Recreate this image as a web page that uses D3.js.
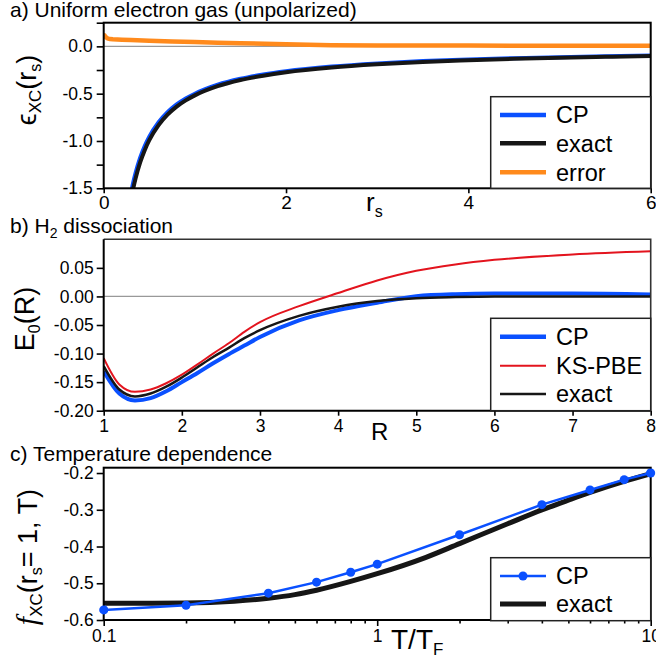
<!DOCTYPE html>
<html><head><meta charset="utf-8">
<script src="https://cdn.jsdelivr.net/npm/d3@7"></script>
<style>
html,body{margin:0;padding:0;background:#fff;}
svg{display:block;font-family:'Liberation Sans',Arial,Helvetica,sans-serif;}
</style></head><body>
<svg id="fig" width="656" height="657"></svg>
<script>
// ---------- (a) uniform electron gas, exchange-correlation energy per particle ----------
const rsGrid   = [0.3, 0.32, 0.35, 0.4, 0.45, 0.5, 0.6, 0.7, 0.8, 0.9, 1.0, 1.25, 1.5, 1.75, 2.0, 2.5, 3.0, 3.5, 4.0, 4.5, 5.0, 5.5, 6.0];
const excExact = [-1.617, -1.520, -1.395, -1.227, -1.097, -0.992, -0.835, -0.722, -0.637, -0.571, -0.518, -0.421, -0.356, -0.310, -0.274, -0.224, -0.190, -0.165, -0.147, -0.132, -0.120, -0.110, -0.102];
const excCP    = [-1.547, -1.455, -1.337, -1.177, -1.053, -0.954, -0.804, -0.696, -0.614, -0.551, -0.500, -0.405, -0.342, -0.297, -0.262, -0.213, -0.180, -0.156, -0.139, -0.125, -0.114, -0.104, -0.097];
const rsErr    = [0, 0.01, 0.02, 0.04, 0.07, 0.1, 0.2, 0.3, 0.5, 0.75, 1.0, 1.25, 1.5, 2.0, 2.5, 3.0, 4.0, 5.0, 6.0];
const excErr   = [0.105, 0.115, 0.100, 0.085, 0.077, 0.074, 0.070, 0.066, 0.060, 0.052, 0.045, 0.039, 0.033, 0.022, 0.013, 0.010, 0.008, 0.007, 0.006];
const uegXTicks = [0, 2, 4, 6];
const uegYTicks = [0, -0.5, -1.0, -1.5];
const uegYMinor = [0.25, -0.25, -0.75, -1.25];

// ---------- (b) H2 binding curve ----------
const bondR   = [1.0, 1.2, 1.4, 1.6, 1.8, 2.0, 2.2, 2.4, 2.6, 2.8, 3.0, 3.5, 4.0, 4.5, 5.0, 5.5, 6.0, 7.0, 8.0];
const h2CP    = [-0.131, -0.170, -0.182, -0.178, -0.166, -0.150, -0.134, -0.117, -0.101, -0.086, -0.071, -0.042, -0.024, -0.011, 0.0005, 0.004, 0.005, 0.005, 0.0035];
const h2PBE   = [-0.108, -0.154, -0.167, -0.163, -0.152, -0.137, -0.119, -0.100, -0.082, -0.062, -0.045, -0.017, 0.006, 0.028, 0.045, 0.056, 0.064, 0.0735, 0.079];
const h2Exact = [-0.122, -0.163, -0.175, -0.170, -0.158, -0.142, -0.124, -0.106, -0.090, -0.073, -0.059, -0.034, -0.018, -0.008, -0.003, -0.001, 0.0, 0.0, 0.0];
const h2XTicks = [1, 2, 3, 4, 5, 6, 7, 8];
const h2YTicks = [0.05, 0.0, -0.05, -0.10, -0.15, -0.20];

// ---------- (c) finite-temperature XC free energy at rs = 1 ----------
const tCP    = [0.1, 0.2, 0.4, 0.6, 0.8, 1, 2, 4, 6, 8, 10];
const fCP    = [-0.5726, -0.560, -0.527, -0.497, -0.470, -0.448, -0.368, -0.286, -0.246, -0.218, -0.200];
const tExact = [0.1, 0.15, 0.2, 0.3, 0.4, 0.5, 0.6, 0.8, 1, 1.5, 2, 3, 4, 5, 6, 8, 10];
const fExact = [-0.5545, -0.5545, -0.554, -0.549, -0.541, -0.531, -0.519, -0.495, -0.474, -0.430, -0.392, -0.338, -0.3005, -0.274, -0.253, -0.223, -0.202];
const tMajor = [0.1, 1, 10];
const tMinor = [0.2, 0.3, 0.4, 0.5, 0.6, 0.7, 0.8, 0.9, 2, 3, 4, 5, 6, 7, 8, 9];
const tYTicks = [-0.2, -0.3, -0.4, -0.5, -0.6];

const BLUE = '#0a50ff', BLACK = '#161616', ORANGE = '#ff8a1c', RED = '#e3141e';
const svg = d3.select('#fig');
const L = 103.7, R = 650.7;

function styleAxis(g, fs) {
  g.select('.domain').remove();
  g.attr('font-family', null).attr('font-size', null);
  g.selectAll('.tick line').attr('stroke', '#000').attr('stroke-width', 1.6);
  g.selectAll('.tick text').attr('fill', '#000').style('font-size', fs + 'px');
}

function clip(id, x, y) {
  svg.append('clipPath').attr('id', id).append('rect')
    .attr('x', x.range()[0]).attr('y', y.range()[1])
    .attr('width', x.range()[1] - x.range()[0]).attr('height', y.range()[0] - y.range()[1]);
}

function drawLine(g, xs, ys, x, y, color, w, curve) {
  const pts = xs.map((v, i) => [v, ys[i]]);
  g.append('path').datum(pts)
    .attr('fill', 'none').attr('stroke', color).attr('stroke-width', w)
    .attr('stroke-linejoin', 'round').attr('stroke-linecap', 'butt')
    .attr('d', d3.line().x(d => x(d[0])).y(d => y(d[1])).curve(curve || d3.curveMonotoneX));
}

function legend(x0, y0, x1, y1, items) {
  const g = svg.append('g');
  g.append('rect').attr('x', x0).attr('y', y0).attr('width', x1 - x0).attr('height', y1 - y0)
    .attr('fill', '#fff').attr('stroke', '#222').attr('stroke-width', 1.5);
  items.forEach(it => {
    g.append('line').attr('x1', 500).attr('x2', 546).attr('y1', it.y).attr('y2', it.y)
      .attr('stroke', it.color).attr('stroke-width', it.w);
    if (it.dot) g.append('circle').attr('cx', 523).attr('cy', it.y).attr('r', 4.5).attr('fill', it.color);
    g.append('text').attr('x', 556).attr('y', it.y + 8.4).attr('font-size', 23.5).attr('fill', '#000').text(it.label);
  });
}

function frame(x, y, color, w) {
  svg.append('rect').attr('x', x.range()[0]).attr('y', y.range()[1])
    .attr('width', x.range()[1] - x.range()[0]).attr('height', y.range()[0] - y.range()[1])
    .attr('fill', 'none').attr('stroke', color).attr('stroke-width', w);
}

// ================= panel (a) =================
{
  const x = d3.scaleLinear().domain([0, 6]).range([L, R]);
  const y = d3.scaleLinear().domain([-1.5, 0.25]).range([188.3, 22.7]);
  clip('clipA', x, y);
  const plot = svg.append('g').attr('clip-path', 'url(#clipA)');
  plot.append('line').attr('x1', L).attr('x2', R).attr('y1', y(0)).attr('y2', y(0)).attr('stroke', '#999').attr('stroke-width', 1.2);
  drawLine(plot, rsGrid, excCP, x, y, BLUE, 4);
  drawLine(plot, rsGrid, excExact, x, y, BLACK, 4);
  drawLine(plot, rsErr, excErr, x, y, ORANGE, 4.5, d3.curveLinear);

  svg.append('g').attr('transform', `translate(${L},0)`)
    .call(d3.axisLeft(y).tickValues(uegYMinor).tickSize(7).tickFormat(''))
    .call(g => styleAxis(g, 17.5));
  svg.append('g').attr('transform', `translate(${L},0)`)
    .call(d3.axisLeft(y).tickValues(uegYTicks).tickSize(7).tickPadding(4).tickFormat(d => d.toFixed(1)))
    .call(g => styleAxis(g, 17.5));
  svg.append('g').attr('transform', `translate(0,${y.range()[0]})`)
    .call(d3.axisBottom(x).tickValues(uegXTicks).tickSize(5).tickPadding(2).tickFormat(d => d))
    .call(g => styleAxis(g, 19));
  frame(x, y, '#000', 2);

  legend(490.7, 96.7, 650.7, 188.3, [
    {label: 'CP', color: BLUE, w: 4.5, y: 115},
    {label: 'exact', color: BLACK, w: 4.5, y: 143.3},
    {label: 'error', color: ORANGE, w: 4.5, y: 172.3}
  ]);

  svg.append('text').attr('x', 10).attr('y', 17.2).attr('font-size', 21).text('a) Uniform electron gas (unpolarized)');
  const yt = svg.append('text').attr('transform', 'translate(36,90) rotate(-90)').attr('text-anchor', 'middle').attr('font-size', 27);
  yt.append('tspan').text('\u03F5');
  yt.append('tspan').attr('font-size', 17).attr('dy', 5).text('XC');
  yt.append('tspan').attr('dy', -5).text('(r');
  yt.append('tspan').attr('font-size', 16).attr('dy', 5).text('s');
  yt.append('tspan').attr('dy', -5).text(')');
  const xt = svg.append('text').attr('x', 366).attr('y', 211).attr('font-size', 26);
  xt.append('tspan').text('r');
  xt.append('tspan').attr('font-size', 16).attr('dy', 6).text('s');
}

// ================= panel (b) =================
{
  const x = d3.scaleLinear().domain([1, 8]).range([L, R]);
  const y = d3.scaleLinear().domain([-0.2, 0.1]).range([410.7, 239.3]);
  clip('clipB', x, y);
  const plot = svg.append('g').attr('clip-path', 'url(#clipB)');
  plot.append('line').attr('x1', L).attr('x2', R).attr('y1', y(0)).attr('y2', y(0)).attr('stroke', '#999').attr('stroke-width', 1.2);
  drawLine(plot, bondR, h2CP, x, y, BLUE, 4);
  drawLine(plot, bondR, h2PBE, x, y, RED, 2);
  drawLine(plot, bondR, h2Exact, x, y, BLACK, 2.5);

  svg.append('g').attr('transform', `translate(${L},0)`)
    .call(d3.axisLeft(y).tickValues(h2YTicks).tickSize(7).tickPadding(3).tickFormat(d => d.toFixed(2)))
    .call(g => styleAxis(g, 17.5));
  svg.append('g').attr('transform', `translate(0,${y.range()[0]})`)
    .call(d3.axisBottom(x).tickValues(h2XTicks).tickSize(5).tickPadding(4).tickFormat(d => d))
    .call(g => styleAxis(g, 17.5));
  svg.append('path')
    .attr('d', `M${L},${y.range()[1]}H${R}V${y.range()[0]}`)
    .attr('fill', 'none').attr('stroke', '#333').attr('stroke-width', 1.6);
  svg.append('path')
    .attr('d', `M${L},${y.range()[1]}V${y.range()[0]}H${R}`)
    .attr('fill', 'none').attr('stroke', '#000').attr('stroke-width', 2);

  legend(490.7, 318.3, 650.7, 410.7, [
    {label: 'CP', color: BLUE, w: 4.5, y: 336.7},
    {label: 'KS-PBE', color: RED, w: 2, y: 365.7},
    {label: 'exact', color: BLACK, w: 2.5, y: 394}
  ]);

  const tt = svg.append('text').attr('x', 10).attr('y', 233.3).attr('font-size', 21);
  tt.append('tspan').text('b) H');
  tt.append('tspan').attr('font-size', 14).attr('dy', 5).text('2');
  tt.append('tspan').attr('dy', -5).text(' dissociation');
  const yt = svg.append('text').attr('transform', 'translate(34,319) rotate(-90)').attr('text-anchor', 'middle').attr('font-size', 27);
  yt.append('tspan').text('E');
  yt.append('tspan').attr('font-size', 16).attr('dy', 6).text('0');
  yt.append('tspan').attr('dy', -6).text('(R)');
  svg.append('text').attr('x', 371).attr('y', 440).attr('font-size', 24).text('R');
}

// ================= panel (c) =================
{
  const x = d3.scaleLog().domain([0.1, 10]).range([L, R]);
  const y = d3.scaleLinear().domain([-0.6, -0.1855]).range([620, 467.7]);
  clip('clipC', x, y);
  const plot = svg.append('g').attr('clip-path', 'url(#clipC)');
  drawLine(plot, tExact, fExact, x, y, BLACK, 5);
  drawLine(plot, tCP, fCP, x, y, BLUE, 2.5, d3.curveLinear);
  plot.selectAll('circle.cp').data(tCP).join('circle').attr('class', 'cp')
    .attr('cx', d => x(d)).attr('cy', (d, i) => y(fCP[i])).attr('r', 4.5).attr('fill', BLUE);

  svg.append('g').attr('transform', `translate(${L},0)`)
    .call(d3.axisLeft(y).tickValues(tYTicks).tickSize(7).tickPadding(3).tickFormat(d => d.toFixed(1)))
    .call(g => styleAxis(g, 17.5));
  svg.append('g').attr('transform', `translate(0,${y.range()[0]})`)
    .call(d3.axisBottom(x).tickValues(tMinor).tickSize(3.5).tickFormat(''))
    .call(g => styleAxis(g, 17.5));
  svg.append('g').attr('transform', `translate(0,${y.range()[0]})`)
    .call(d3.axisBottom(x).tickValues(tMajor).tickSize(6).tickPadding(4).tickFormat(d => String(d)))
    .call(g => styleAxis(g, 17.5));
  frame(x, y, '#000', 2);
  // edge markers sit on top of the frame
  svg.selectAll('circle.cpEdge').data(tCP.filter(d => d === 10 || d === 0.1)).join('circle')
    .attr('cx', d => x(d)).attr('cy', d => y(fCP[tCP.indexOf(d)])).attr('r', 4.5).attr('fill', BLUE);

  legend(490.7, 557.7, 650.7, 620.7, [
    {label: 'CP', color: BLUE, w: 2.5, y: 576, dot: true},
    {label: 'exact', color: BLACK, w: 5, y: 604}
  ]);

  svg.append('text').attr('x', 10).attr('y', 460.7).attr('font-size', 21).text('c) Temperature dependence');
  const yt = svg.append('text').attr('transform', 'translate(37,557) rotate(-90)').attr('text-anchor', 'middle').attr('font-size', 27);
  yt.append('tspan').attr('font-family', "'Liberation Serif','Times New Roman',serif").attr('font-style', 'italic').attr('font-size', 30).text('f');
  yt.append('tspan').attr('font-size', 17).attr('dy', 5).text('XC');
  yt.append('tspan').attr('dy', -5).text('(r');
  yt.append('tspan').attr('font-size', 16).attr('dy', 5).text('s');
  yt.append('tspan').attr('dy', -5).text('= 1, T)');
  const xt = svg.append('text').attr('x', 391).attr('y', 649).attr('font-size', 28);
  xt.append('tspan').text('T/T');
  xt.append('tspan').attr('font-size', 17).attr('dy', 6).text('F');
}
</script>
</body></html>
